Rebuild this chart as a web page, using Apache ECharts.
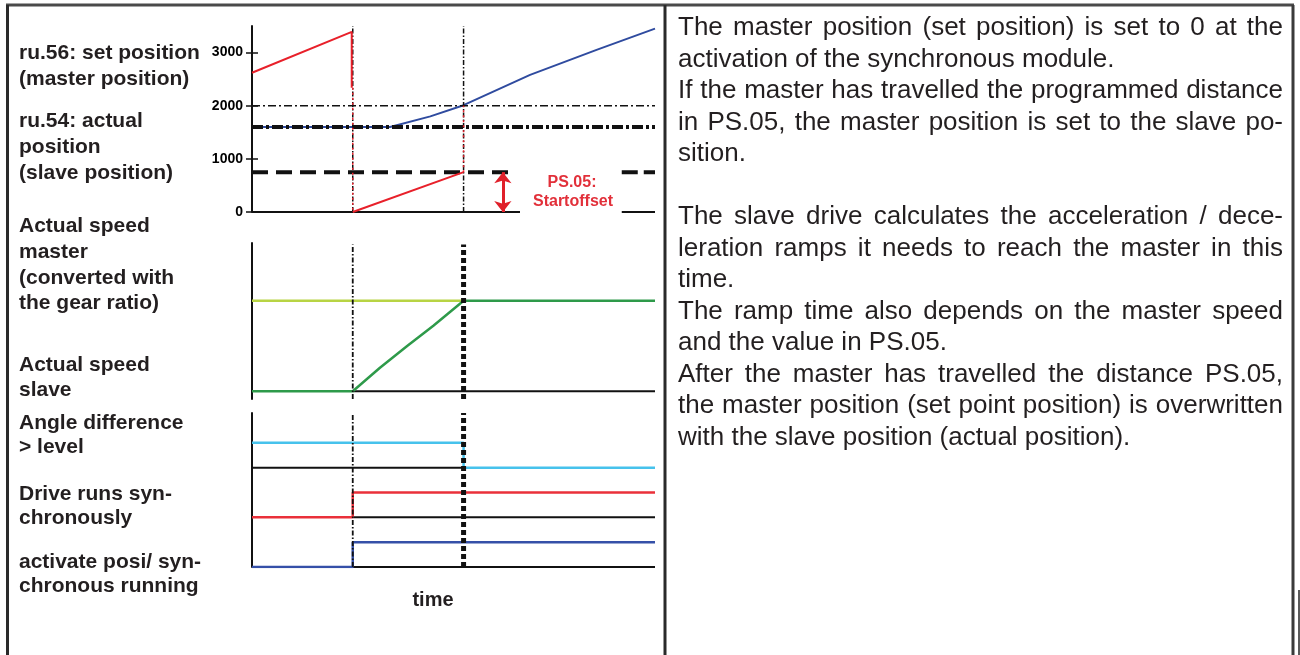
<!DOCTYPE html>
<html><head><meta charset="utf-8">
<script src="https://cdn.jsdelivr.net/npm/echarts@6/dist/echarts.min.js"></script>
<style>html,body{margin:0;padding:0;background:#fff}#c{width:1300px;height:655px}</style>
</head><body><div id="c"></div><script>
// ---------------- data ----------------
const TIME_MAX = 40;                 // time axis (arbitrary units)
const markerTimes = [10, 21];        // activation, PS.05 distance reached
const posTicks = [0, 1000, 2000, 3000];
const posTickLabels = ['0', '1000', '2000', '3000'];
// ru.56 set position (master position)
const setPosBefore = [[0, 2620], [9.9, 3390], [9.9, 2340]];
const setPosResetDotted = [[10, 2340], [10, 0]];
const setPosRamp = [[10, 0], [21, 750]];
const setPosJumpDotted = [[21, 750], [21, 2000]];
// ru.54 actual position (slave position)
const actualPos = [[0, 1600], [13.7, 1600], [17.7, 1800], [21, 2010], [27.6, 2580], [34.2, 3050], [40, 3450]];
// reference levels in position plot
const levelUpper = [[0, 2000], [40, 2000]];
const levelSlaveStart = [[0, 1600], [40, 1600]];
const startOffsetA = [[0, 750], [25.8, 750]];
const startOffsetB = [[36.7, 750], [40, 750]];
const posBaseA = [[0, 0], [26.6, 0]];
const posBaseB = [[36.7, 0], [40, 0]];
const startOffsetArrow = [[24.9, 0], [24.9, 750]];
// speeds
const masterSpeedBefore = [[0, 58], [21, 58]];
const masterSpeedAfter = [[21, 58], [40, 58]];
const slaveSpeed = [[0, 0], [10, 0], [12.7, 15], [15.4, 29], [18, 42], [21, 58]];
const slaveSpeedBase = [[10, 0], [40, 0]];
// digital signals
const angleDiff = [[0, 5], [21, 5], [21, 4], [40, 4]];
const angleBase = [[0, 4], [21, 4]];
const driveSync = [[0, 2], [10, 2], [10, 3], [40, 3]];
const driveSyncBase = [[10, 2], [40, 2]];
const activatePosi = [[0, 0], [10, 0], [10, 1], [40, 1]];
const activateBase = [[10, 0], [40, 0]];

const rowLabels = ['ru.56: set position', '(master position)', 'ru.54: actual', 'position', '(slave position)',
  'Actual speed', 'master', '(converted with', 'the gear ratio)', 'Actual speed', 'slave',
  'Angle difference', '> level', 'Drive runs syn-', 'chronously', 'activate posi/ syn-', 'chronous running'];
const rowLabelY = [53, 79, 121, 147, 173, 226, 252, 278, 303, 365, 390, 423, 447, 494, 518, 562, 586];

const descLines = [
  'The master position (set position) is set to 0 at the',
  'activation of the synchronous module.',
  'If the master has travelled the programmed distance',
  'in PS.05, the master position is set to the slave po-',
  'sition.',
  '',
  'The slave drive calculates the acceleration / dece-',
  'leration ramps it needs to reach the master in this',
  'time.',
  'The ramp time also depends on the master speed',
  'and the value in PS.05.',
  'After the master has travelled the distance PS.05,',
  'the master position (set point position) is overwritten',
  'with the slave position (actual position).'
];
const descJustified = [true, false, true, true, false, false, true, true, false, true, false, true, true, false];

// ---------------- chart ----------------
const chart = echarts.init(document.getElementById('c'), null, {renderer: 'canvas'});
const BLACK = '#111';
const series = [];
function seg(data, g, color, width, type, z) {
  series.push({
    type: 'line', xAxisIndex: g, yAxisIndex: g, data: data, symbol: 'none', silent: true,
    animation: false, z: z || 2,
    lineStyle: {color: color, width: width, type: type || 'solid', cap: 'butt'}
  });
}
const dashDot = [5, 2, 1.5, 2];
const panelTop = [3500, 94, 6.2];
const panelBot = [0, -5, 0];

// Panel 0: positions
seg(levelUpper, 0, BLACK, 1.5, [8, 3, 2, 3], 3);
seg(actualPos, 0, '#2f4b9f', 2, 'solid', 2);
seg(levelSlaveStart, 0, BLACK, 4, [11, 3, 3, 3], 4);
seg(startOffsetA, 0, BLACK, 4, [16, 8], 3);
seg(startOffsetB, 0, BLACK, 4, [16, 6], 3);
seg(posBaseA, 0, BLACK, 2, 'solid', 3);
seg(posBaseB, 0, BLACK, 2, 'solid', 3);
markerTimes.forEach(t => seg([[t, panelBot[0]], [t, panelTop[0]]], 0, BLACK, 1.5, dashDot, 4));
seg(setPosBefore, 0, '#e8202a', 2, 'solid', 5);
seg(setPosResetDotted, 0, '#e8202a', 1.5, [2, 3], 5);
seg(setPosRamp, 0, '#e8202a', 2, 'solid', 5);
seg(setPosJumpDotted, 0, '#e8202a', 1.5, [2, 3], 5);
series.push({
  type: 'line', xAxisIndex: 0, yAxisIndex: 0, data: [], silent: true, animation: false, z: 6,
  markLine: {
    silent: true, animation: false, symbol: ['arrow', 'arrow'], symbolSize: [13, 11],
    label: {show: false}, lineStyle: {color: '#e0202a', width: 3, type: 'solid'},
    data: [[{coord: startOffsetArrow[0]}, {coord: startOffsetArrow[1]}]]
  }
});

// Panel 1: speeds
seg(masterSpeedBefore, 1, '#b8d444', 2.5, 'solid', 3);
seg(masterSpeedAfter, 1, '#2e9a4a', 2.5, 'solid', 3);
seg(slaveSpeedBase, 1, BLACK, 2, 'solid', 2);
seg(slaveSpeed, 1, '#2e9a4a', 2.5, 'solid', 3);
seg([[markerTimes[0], panelBot[1]], [markerTimes[0], panelTop[1]]], 1, BLACK, 1.8, dashDot, 5);
seg([[markerTimes[1], panelBot[1]], [markerTimes[1], panelTop[1]]], 1, BLACK, 5, [5, 3], 5);

// Panel 2: digital signals
seg(angleBase, 2, BLACK, 2, 'solid', 2);
seg(driveSyncBase, 2, BLACK, 2, 'solid', 2);
seg(activateBase, 2, BLACK, 2, 'solid', 2);
seg(angleDiff, 2, '#46c2ec', 2.5, 'solid', 3);
seg(driveSync, 2, '#ea303a', 2.5, 'solid', 3);
seg(activatePosi, 2, '#3550a8', 2.5, 'solid', 3);
seg([[markerTimes[0], panelBot[2]], [markerTimes[0], panelTop[2]]], 2, BLACK, 1.8, dashDot, 5);
seg([[markerTimes[1], panelBot[2]], [markerTimes[1], panelTop[2]]], 2, BLACK, 5, [5, 3], 5);

const grids = [
  {left: 252, top: 26, width: 403, height: 186},
  {left: 252, top: 243, width: 403, height: 156},
  {left: 252, top: 413, width: 403, height: 154}
];
const xAxes = grids.map((g, i) => ({type: 'value', gridIndex: i, min: 0, max: TIME_MAX, show: false}));
const yAxes = [
  {type: 'value', gridIndex: 0, position: 'left', min: 0, max: 3500, interval: 1000,
   axisLine: {show: true, lineStyle: {color: BLACK, width: 2}},
   axisTick: {show: true, length: 6, lineStyle: {color: BLACK, width: 1.5}, customValues: posTicks},
   axisLabel: {show: true, margin: 9, customValues: posTicks,
     formatter: v => posTickLabels[posTicks.indexOf(v)] || '',
     color: '#000', fontFamily: 'Liberation Sans', fontWeight: 900, fontSize: 14},
   splitLine: {show: false}},
  {type: 'value', gridIndex: 1, position: 'left', min: -5, max: 95, show: true,
   axisLine: {show: true, lineStyle: {color: BLACK, width: 2}}, axisTick: {show: false},
   axisLabel: {show: false}, splitLine: {show: false}},
  {type: 'value', gridIndex: 2, position: 'left', min: 0, max: 6.2, show: true,
   axisLine: {show: true, lineStyle: {color: BLACK, width: 2}}, axisTick: {show: false},
   axisLabel: {show: false}, splitLine: {show: false}},
  // inner half of the crossing ticks on the position axis
  {type: 'value', gridIndex: 0, position: 'left', offset: 0, min: 0, max: 3500, interval: 1000,
   axisLine: {show: false},
   axisTick: {show: true, inside: true, length: 6, lineStyle: {color: BLACK, width: 1.5}, customValues: posTicks},
   axisLabel: {show: false}, splitLine: {show: false}}
];

// graphics: frame, labels, descriptive text
const graphics = [];
function line(x1, y1, x2, y2, w, c) {
  graphics.push({type: 'line', silent: true, shape: {x1, y1, x2, y2}, style: {stroke: c, lineWidth: w}});
}
line(6, 5, 1294, 5, 3, '#4a4a4a');
line(7.5, 5, 7.5, 655, 3, '#2a2a2a');
line(665, 5, 665, 655, 3, '#2a2a2a');
line(1293, 5, 1293, 655, 3, '#3a3a3a');
line(1299, 590, 1299, 655, 1.5, '#222');

function txt(text, x, y, font, fill, align) {
  graphics.push({type: 'text', silent: true, x: x, y: y,
    style: {text: text, font: font, fill: fill, align: align || 'left', verticalAlign: 'middle',
            textAlign: align || 'left', textVerticalAlign: 'middle'}});
}
const LABEL_FONT = 'bold 21px "Liberation Sans", Arial, sans-serif';
rowLabels.forEach((s, i) => txt(s, 19, rowLabelY[i], LABEL_FONT, '#231f20'));
txt('time', 433, 600, 'bold 20px "Liberation Sans", Arial, sans-serif', '#231f20', 'center');
txt('PS.05:', 572, 183, 'bold 16px "Liberation Sans", Arial, sans-serif', '#e2303a', 'center');
txt('Startoffset', 573, 202, 'bold 16px "Liberation Sans", Arial, sans-serif', '#e2303a', 'center');

const DESC_FONT = '26px "Liberation Sans", Arial, sans-serif';
const DESC_X0 = 678, DESC_X1 = 1283, DESC_Y0 = 28, DESC_DY = 31.5;
const mctx = document.createElement('canvas').getContext('2d');
mctx.font = DESC_FONT;
descLines.forEach((s, i) => {
  if (!s) return;
  const y = DESC_Y0 + i * DESC_DY;
  if (!descJustified[i]) { txt(s, DESC_X0, y, DESC_FONT, '#231f20'); return; }
  const words = s.split(' ');
  const widths = words.map(w => mctx.measureText(w).width);
  const total = widths.reduce((a, b) => a + b, 0);
  const gap = (DESC_X1 - DESC_X0 - total) / (words.length - 1);
  let x = DESC_X0;
  words.forEach((w, k) => { txt(w, x, y, DESC_FONT, '#231f20'); x += widths[k] + gap; });
});

chart.setOption({
  animation: false,
  backgroundColor: '#fff',
  grid: grids,
  xAxis: xAxes,
  yAxis: yAxes,
  series: series,
  graphic: {elements: graphics}
});
</script></body></html>
